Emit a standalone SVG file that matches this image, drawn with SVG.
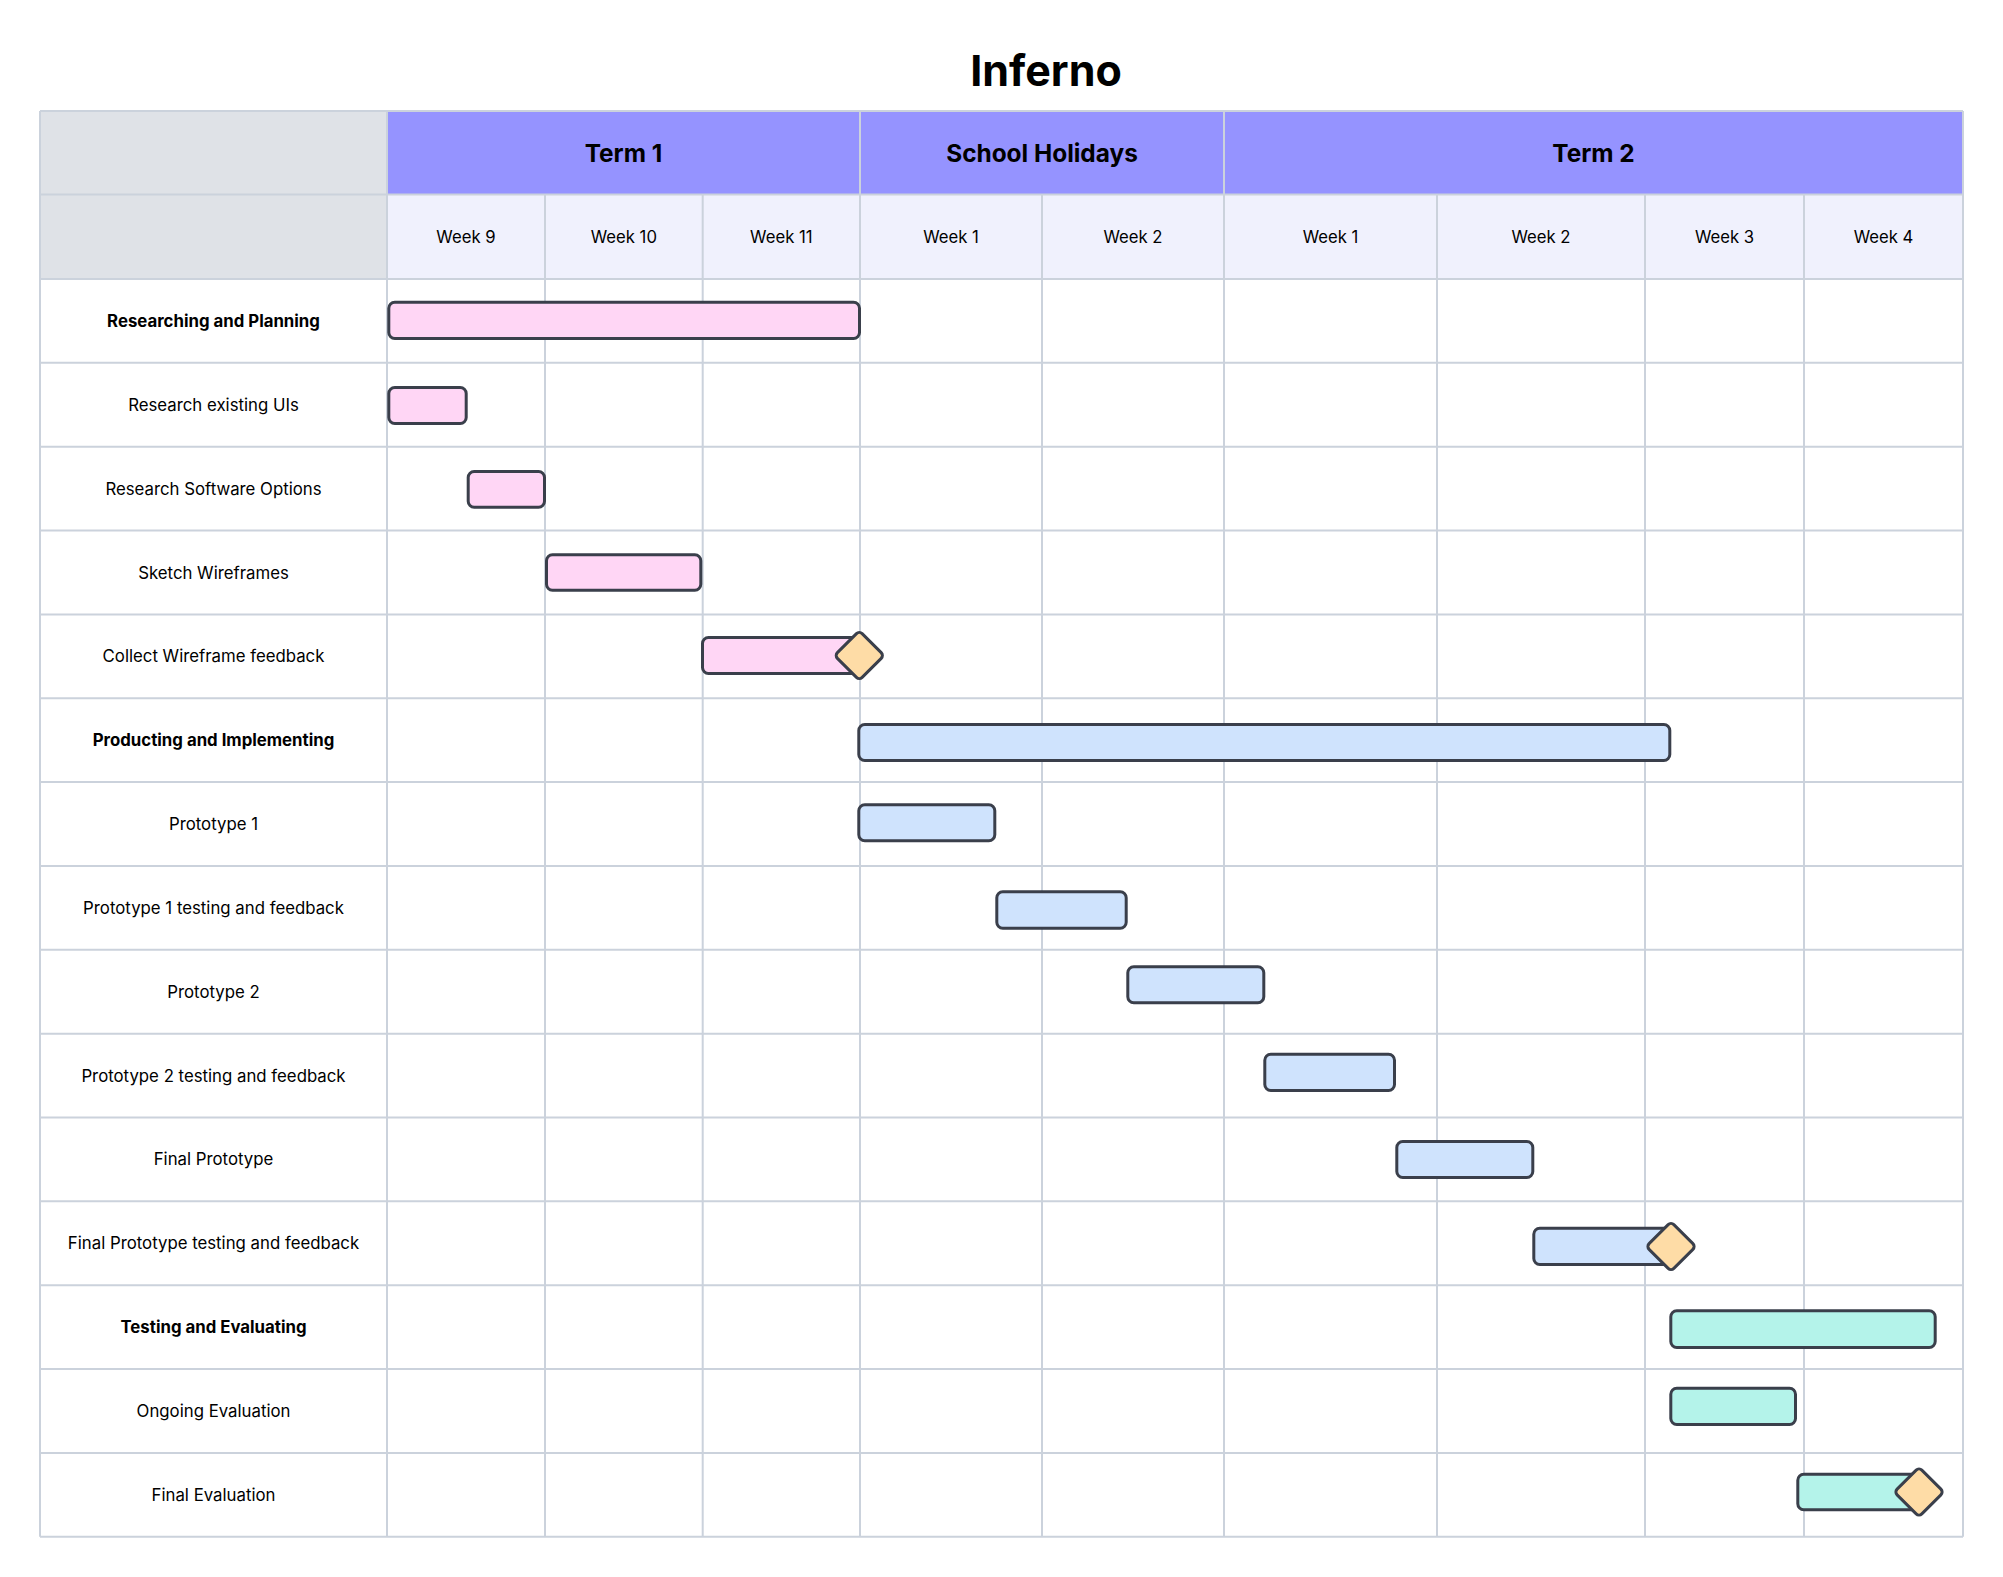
<svg xmlns="http://www.w3.org/2000/svg" width="2003" height="1577" viewBox="0 0 2003 1577">
<style>
.bg{fill:#ffffff}
.gray{fill:#dfe2e7}
.term{fill:#9593ff}
.week{fill:#f0f1fd}
.grid{stroke:#cbd2dc;stroke-width:2;fill:none}
.title{font-family:Inter,"Liberation Sans",sans-serif;font-size:43px;font-weight:700;fill:#000;text-anchor:middle}
.th{font-family:Inter,"Liberation Sans",sans-serif;font-size:24.4px;font-weight:700;fill:#000;text-anchor:middle;dominant-baseline:central}
.wk{font-family:Inter,"Liberation Sans",sans-serif;font-size:16.7px;fill:#000;text-anchor:middle;dominant-baseline:central}
.lbl{font-family:Inter,"Liberation Sans",sans-serif;font-size:16.8px;fill:#000;text-anchor:middle;dominant-baseline:central}
.b{font-weight:700}
.bar{stroke:#3a3f4b;stroke-width:3}
.pink{fill:#ffd6f5}
.blue{fill:#cfe3fd}
.teal{fill:#b4f3ea}
.ms{fill:#fedca6;stroke:#3a3f4b;stroke-width:3}
</style>
<rect class="bg" x="0" y="0" width="2003" height="1577"/>
<text class="title" x="1046" y="86">Inferno</text>

<g id="header">
<rect class="gray" x="40" y="111" width="347" height="168"/>
<rect class="term" x="387" y="111" width="1576" height="83.5"/>
<rect class="week" x="387" y="194.5" width="1576" height="84.5"/>
<text class="th" x="623.5" y="152.75">Term 1</text>
<text class="th" x="1042" y="152.75">School Holidays</text>
<text class="th" x="1593.5" y="152.75">Term 2</text>
<text class="wk" x="466" y="236.75">Week 9</text>
<text class="wk" x="623.85" y="236.75">Week 10</text>
<text class="wk" x="781.35" y="236.75">Week 11</text>
<text class="wk" x="951" y="236.75">Week 1</text>
<text class="wk" x="1133" y="236.75">Week 2</text>
<text class="wk" x="1330.5" y="236.75">Week 1</text>
<text class="wk" x="1541" y="236.75">Week 2</text>
<text class="wk" x="1724.5" y="236.75">Week 3</text>
<text class="wk" x="1883.5" y="236.75">Week 4</text>
</g>

<g id="grid" class="grid">
<path d="M40 111H1963M40 194.5H1963M40 279H1963M40 362.85H1963M40 446.7H1963M40 530.55H1963M40 614.4H1963M40 698.25H1963M40 782.1H1963M40 865.95H1963M40 949.8H1963M40 1033.65H1963M40 1117.5H1963M40 1201.35H1963M40 1285.2H1963M40 1369.05H1963M40 1452.9H1963M40 1536.75H1963"/>
<path d="M40 111V1536.75M387 111V1536.75M860 111V1536.75M1224 111V1536.75M1963 111V1536.75"/>
<path d="M545 194.5V1536.75M702.7 194.5V1536.75M1042 194.5V1536.75M1437 194.5V1536.75M1645 194.5V1536.75M1804 194.5V1536.75"/>
</g>

<g id="connectors"></g>

<g id="task-0"><text class="lbl b" x="213.5" y="320.9">Researching and Planning</text><rect class="bar pink" x="388.8" y="302.2" width="470.7" height="36.3" rx="6"/></g>
<g id="task-1"><text class="lbl" x="213.5" y="404.8">Research existing UIs</text><rect class="bar pink" x="388.8" y="387.5" width="77.4" height="36" rx="6"/></g>
<g id="task-2"><text class="lbl" x="213.5" y="488.6">Research Software Options</text><rect class="bar pink" x="468.2" y="471.5" width="76.3" height="35.7" rx="6"/></g>
<g id="task-3"><text class="lbl" x="213.5" y="572.5">Sketch Wireframes</text><rect class="bar pink" x="546.5" y="554.8" width="154.3" height="35.4" rx="6"/></g>
<g id="task-4"><text class="lbl" x="213.5" y="656.3">Collect Wireframe feedback</text><rect class="bar pink" x="702.5" y="637.5" width="157" height="36" rx="6"/><rect class="ms" x="-17.5" y="-17.5" width="35" height="35" rx="4" transform="translate(859.3 655.5) rotate(45)"/></g>
<g id="task-5"><text class="lbl b" x="213.5" y="740.2">Producting and Implementing</text><rect class="bar blue" x="858.8" y="724.5" width="811" height="36" rx="6"/></g>
<g id="task-6"><text class="lbl" x="213.5" y="824">Prototype 1</text><rect class="bar blue" x="858.8" y="804.8" width="136" height="36" rx="6"/></g>
<g id="task-7"><text class="lbl" x="213.5" y="907.9">Prototype 1 testing and feedback</text><rect class="bar blue" x="996.8" y="891.8" width="129.4" height="36.4" rx="6"/></g>
<g id="task-8"><text class="lbl" x="213.5" y="991.7">Prototype 2</text><rect class="bar blue" x="1127.8" y="966.8" width="136" height="36" rx="6"/></g>
<g id="task-9"><text class="lbl" x="213.5" y="1075.6">Prototype 2 testing and feedback</text><rect class="bar blue" x="1264.8" y="1054.2" width="129.7" height="36.3" rx="6"/></g>
<g id="task-10"><text class="lbl" x="213.5" y="1159.4">Final Prototype</text><rect class="bar blue" x="1396.8" y="1141.5" width="136" height="36" rx="6"/></g>
<g id="task-11"><text class="lbl" x="213.5" y="1243.3">Final Prototype testing and feedback</text><rect class="bar blue" x="1533.8" y="1228.2" width="136" height="36.3" rx="6"/><rect class="ms" x="-17.5" y="-17.5" width="35" height="35" rx="4" transform="translate(1671 1246.5) rotate(45)"/></g>
<g id="task-12"><text class="lbl b" x="213.5" y="1327.1">Testing and Evaluating</text><rect class="bar teal" x="1670.8" y="1310.8" width="264.4" height="36.7" rx="6"/></g>
<g id="task-13"><text class="lbl" x="213.5" y="1411">Ongoing Evaluation</text><rect class="bar teal" x="1670.8" y="1388.2" width="124.7" height="36.3" rx="6"/></g>
<g id="task-14"><text class="lbl" x="213.5" y="1494.8">Final Evaluation</text><rect class="bar teal" x="1797.8" y="1474.2" width="120" height="35.6" rx="6"/><rect class="ms" x="-17.5" y="-17.5" width="35" height="35" rx="4" transform="translate(1919 1492) rotate(45)"/></g>
</svg>
